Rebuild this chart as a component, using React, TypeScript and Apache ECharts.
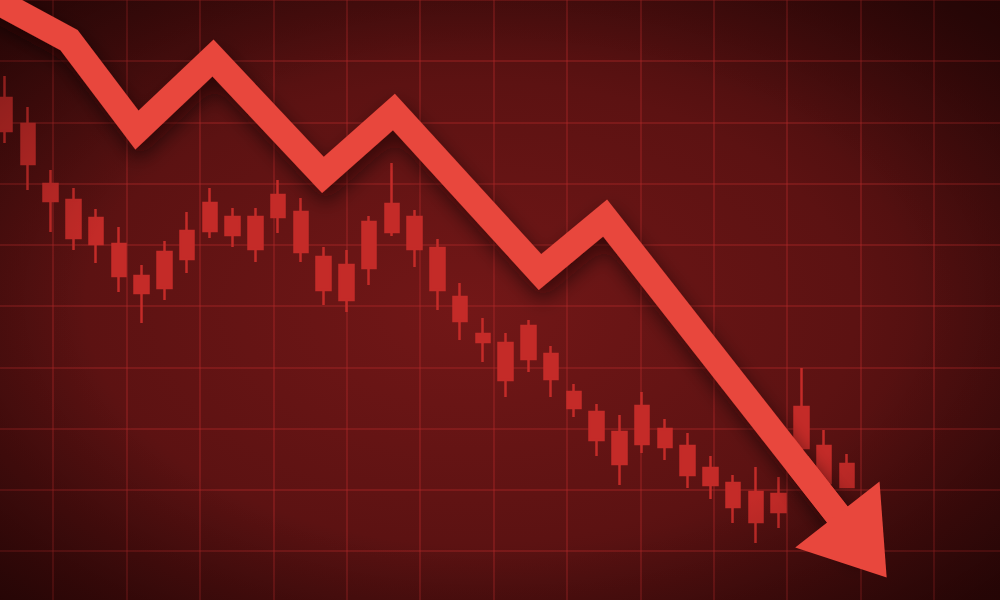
import React, { useEffect, useRef } from "react";
import * as echarts from "echarts";

// Candles (price units), one per session
const sessions = [
  "1", "2", "3", "4", "5", "6", "7", "8", "9", "10",
  "11", "12", "13", "14", "15", "16", "17", "18", "19", "20",
  "21", "22", "23", "24", "25", "26", "27", "28", "29", "30",
  "31", "32", "33", "34", "35", "36", "37", "38",
];
const opens = [125.5, 119, 104, 100, 95.5, 89, 81, 87, 92.25, 99.25, 95.75, 95.75, 101.25, 97, 85.75, 83.75, 94.5, 99, 95.75, 88, 75.75, 66.5, 64.25, 68.5, 61.5, 52, 47, 42, 48.5, 42.75, 38.5, 33, 29.25, 27, 26.5, 48.25, 38.5, 34];
const closes = [117.25, 109, 99.75, 90.5, 89, 81, 76.75, 78, 85.25, 92.25, 91.25, 87.75, 95.75, 87, 77.5, 75, 83, 92, 87.75, 77.5, 69.75, 64.5, 55, 60.25, 55.25, 48, 40, 34, 39, 38.25, 31.25, 28.75, 23.25, 19.5, 22, 38, 29.25, 28.25];
const lows = [114.25, 102.5, 92, 87.5, 84.25, 77, 69.25, 75, 81.75, 90.5, 88.25, 84.5, 91.75, 84.5, 73.75, 72, 78.75, 91, 83.25, 72.5, 65, 59.5, 50.75, 57, 50.75, 45.75, 36, 28.75, 36.75, 35, 28, 25.25, 19.25, 14.25, 18, 37.5, 29.25, 28.25];
const highs = [131, 123.25, 107.5, 103, 97.75, 93.25, 83.75, 89.75, 97, 103, 98, 98, 105, 100.5, 88.25, 87.5, 96, 109.25, 97.5, 90.25, 79.25, 70.5, 66.75, 70, 63.5, 54, 49, 46.25, 52, 45.25, 41.75, 36, 31.25, 33.25, 30.75, 58, 42.5, 36.5];

// Trend arrow vertices (session index, price)
const arrowIdx = [-1.1, 2.81, 5.8, 9.14, 13.97, 17.09, 23.51, 26.37, 37.66];
const arrowPrice = [152, 140, 117.5, 135.5, 106.25, 122, 82, 95.5, 13.5];
const arrowHeadFrom = [34.84, 34];

const CANDLE = "#c42b28";
const ARROW = "#e8473d";
const GRIDLINE = "rgba(175,42,42,0.5)";

export default function App() {
  const ref = useRef<HTMLDivElement>(null);
  useEffect(() => {
    const chart = echarts.init(ref.current as HTMLDivElement, null, { renderer: "svg" });
    const hidden = { show: false };
    const option: any = {
      animation: false,
      graphic: {
        elements: [
          {
            type: "rect",
            z: -10,
            silent: true,
            shape: { x: 0, y: 0, width: 1000, height: 600 },
            style: {
              fill: new echarts.graphic.RadialGradient(0.47, 0.52, 0.7, [
                { offset: 0, color: "#721717" },
                { offset: 0.55, color: "#5c1212" },
                { offset: 1, color: "#350909" },
              ]),
            },
          },
          {
            type: "rect",
            z: 4,
            silent: true,
            shape: { x: 0, y: 0, width: 1000, height: 600 },
            style: {
              fill: new echarts.graphic.RadialGradient(0.5, 0.5, 0.75, [
                { offset: 0, color: "rgba(15,0,0,0)" },
                { offset: 0.55, color: "rgba(15,0,0,0)" },
                { offset: 1, color: "rgba(15,0,0,0.5)" },
              ]),
            },
          },
        ],
      },
      grid: [
        { left: 5, top: 0, width: 842, height: 600 },
        { left: 53, top: 0, width: 881, height: 600 },
        { left: 0, top: 0, width: 1000, height: 551 },
        { left: 5, top: 0, width: 842, height: 600 },
      ],
      xAxis: [
        { type: "category", gridIndex: 0, data: sessions, boundaryGap: false, show: false },
        {
          type: "value", gridIndex: 1, min: 0, max: 12, interval: 1,
          axisLine: hidden, axisTick: hidden, axisLabel: hidden,
          splitLine: { show: true, lineStyle: { color: GRIDLINE, width: 1.5 } },
        },
        { type: "value", gridIndex: 2, min: 0, max: 1, show: false },
        { type: "value", gridIndex: 3, min: 0, max: 37, show: false },
      ],
      yAxis: [
        { type: "value", gridIndex: 0, min: 0, max: 150, show: false },
        { type: "value", gridIndex: 1, min: 0, max: 1, show: false },
        {
          type: "value", gridIndex: 2, min: 0, max: 9, interval: 1,
          axisLine: hidden, axisTick: hidden, axisLabel: hidden,
          splitLine: { show: true, lineStyle: { color: GRIDLINE, width: 1.5 } },
        },
        { type: "value", gridIndex: 3, min: 0, max: 150, show: false },
      ],
      series: [
        {
          type: "candlestick",
          xAxisIndex: 0,
          yAxisIndex: 0,
          z: 2,
          silent: true,
          barWidth: 14,
          data: opens.map((o, i) => [o, closes[i], lows[i], highs[i]]),
          itemStyle: {
            color: CANDLE,
            color0: CANDLE,
            borderColor: CANDLE,
            borderColor0: CANDLE,
            borderWidth: 2.5,
          },
        },
        {
          type: "line",
          xAxisIndex: 3,
          yAxisIndex: 3,
          z: 10,
          silent: true,
          clip: false,
          symbol: "none",
          data: arrowIdx.map((x, i) => [x, arrowPrice[i]]),
          lineStyle: {
            color: ARROW,
            width: 26,
            join: "miter",
            miterLimit: 10,
            cap: "butt",
            shadowColor: "rgba(12,0,0,0.6)",
            shadowBlur: 20,
            shadowOffsetX: 3,
            shadowOffsetY: 10,
          },
        },
        {
          type: "lines",
          coordinateSystem: "cartesian2d",
          xAxisIndex: 3,
          yAxisIndex: 3,
          z: 11,
          silent: true,
          clip: false,
          symbol: ["none", "triangle"],
          symbolSize: [0, [107, 80]],
          lineStyle: { color: ARROW, width: 26, opacity: 1, curveness: 0 },
          data: [
            {
              coords: [
                arrowHeadFrom,
                [arrowIdx[arrowIdx.length - 1], arrowPrice[arrowPrice.length - 1]],
              ],
            },
          ],
        },
      ],
    };
    chart.setOption(option);
    return () => chart.dispose();
  }, []);
  return (
    <div
      ref={ref}
      style={{ position: "absolute", left: 0, top: 0, width: 1000, height: 600 }}
    />
  );
}
